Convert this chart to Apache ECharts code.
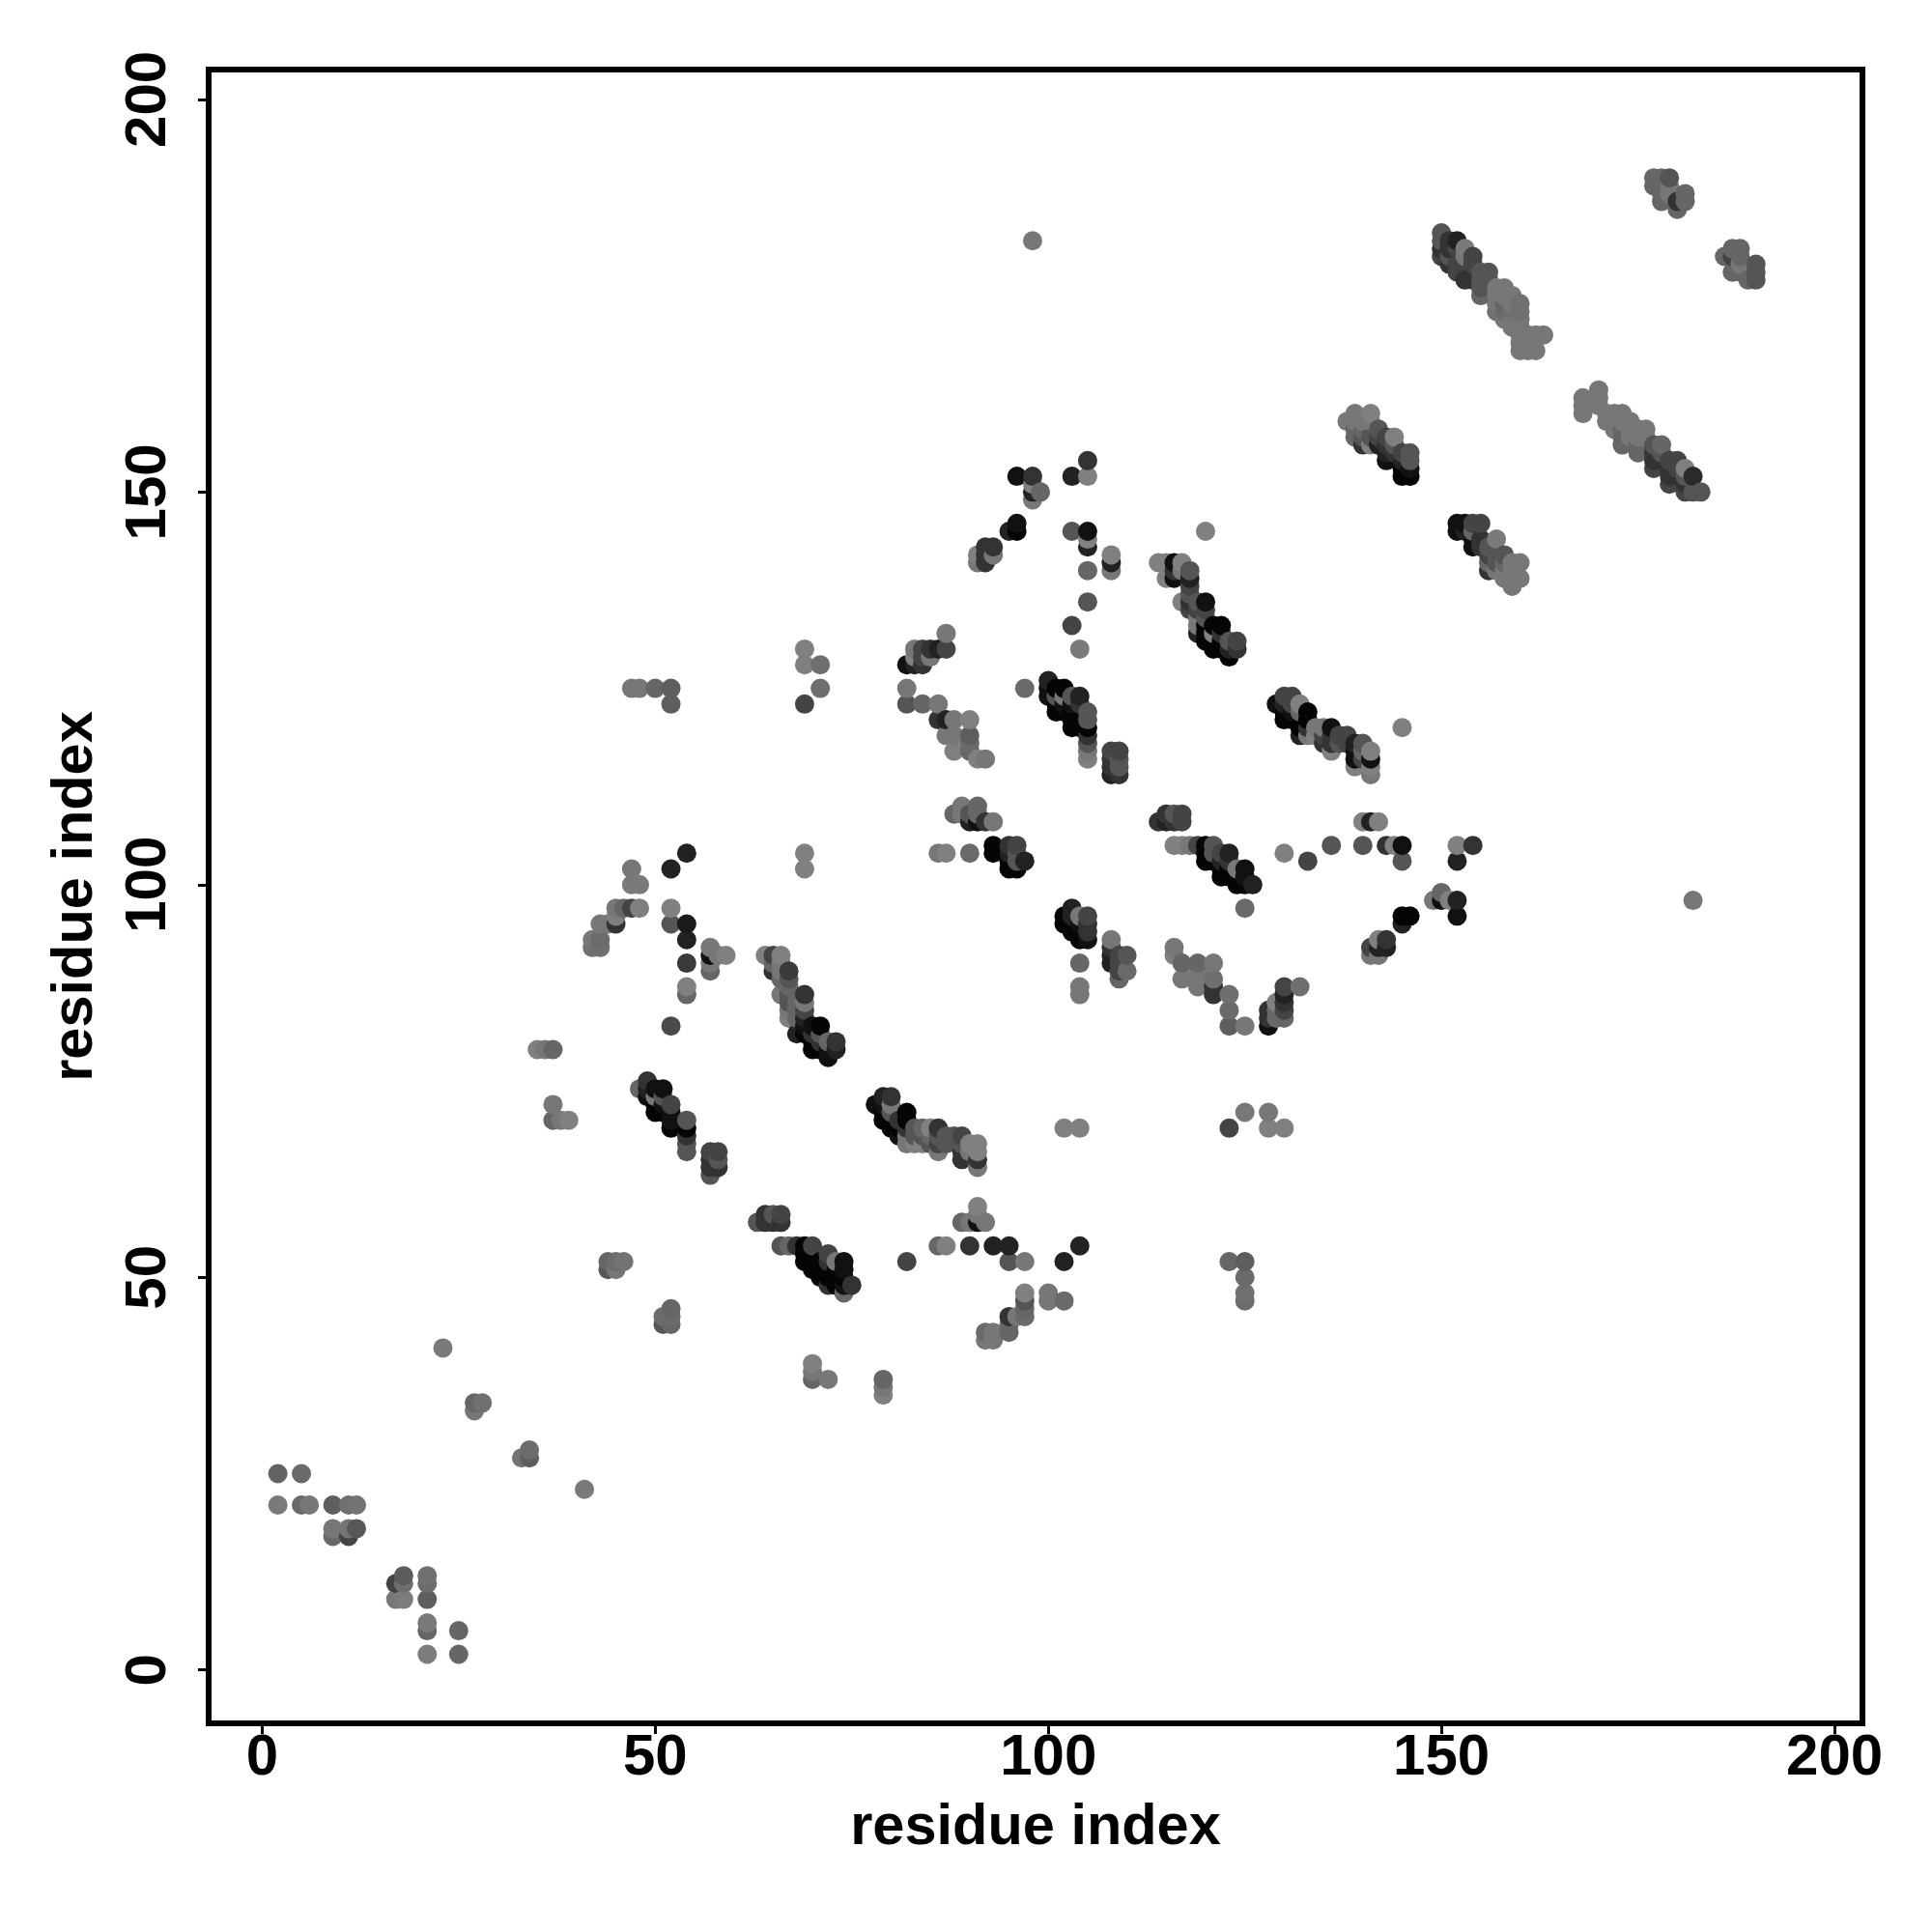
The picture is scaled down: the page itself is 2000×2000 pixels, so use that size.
<!DOCTYPE html>
<html><head><meta charset="utf-8">
<style>html,body{margin:0;padding:0;background:#fff}#c{width:2000px;height:2000px}</style>
<script src="https://cdn.jsdelivr.net/npm/echarts@6/dist/echarts.min.js"></script>
</head><body><div id="c"></div>
<script>
// each contact: [residue i, residue j, grey level]
const tickValues = [0, 50, 100, 150, 200];
const axisTitle = "residue index";
const lowLeft = [
[2,25,0x63],[5,25,0x6a],[2,21,0x7a],[5,21,0x69],[6,21,0x77],[9,21,0x5e],[11,21,0x70],[12,21,0x73],
[9,18,0x77],[11,18,0x75],[12,18,0x58],[9,17,0x69],[11,17,0x44],
[18,12,0x5c],[21,12,0x70],[17,11,0x44],[18,11,0x6f],[21,11,0x6c],[17,9,0x77],[18,9,0x7c],[21,9,0x5e],
[21,6,0x7a],[21,5,0x66],[25,5,0x66],[21,2,0x7c],[25,2,0x66],
[23,41,0x7a],[27,34,0x66],[28,34,0x70],[27,33,0x77],[33,27,0x73],[34,28,0x6c],[34,27,0x5e],[41,23,0x7a],
[44,52,0x66],[45,52,0x6c],[46,52,0x73],[44,51,0x58],[45,51,0x77],
[51,45,0x6c],[51,44,0x55],[52,46,0x66],[52,45,0x6c],[52,44,0x66]
];
const sheetA = [
[54,104,0x22],[52,102,0x22],[47,102,0x77],[47,100,0x7a],[48,100,0x7a],[69,104,0x80],[69,102,0x80],
[45,97,0x77],[46,97,0x66],[47,97,0x44],[48,97,0x7f],[45,96,0x7f],[43,95,0x77],[44,95,0x77],[45,95,0x33],
[42,93,0x77],[43,93,0x6c],[42,92,0x70],[43,92,0x70],
[52,97,0x80],[52,95,0x55],[54,95,0x1a],[54,93,0x22],[54,90,0x3a],[54,87,0x80],[54,86,0x66],[52,82,0x4a],
[57,92,0x77],[57,91,0x11],[58,91,0x77],[59,91,0x80],[57,90,0x77],[57,89,0x66],
[35,79,0x80],[36,79,0x77],[37,79,0x66],[37,72,0x77],[37,70,0x66],[38,70,0x77],[39,70,0x80],
[49,75,0x33],[48,74,0x66],[49,74,0x22],[50,74,0x11],[51,74,0x11],[49,73,0x11],[50,73,0x77],[51,73,0x55],
[50,72,0x05],[51,72,0x11],[52,72,0x44],[50,71,0x05],[51,71,0x05],[52,71,0x11],[52,70,0x11],[54,70,0x55],
[52,69,0x05],[54,69,0x05],[54,68,0x33],[54,67,0x55],[54,66,0x55],
[57,66,0x44],[58,66,0x44],[57,65,0x33],[58,65,0x55],[57,64,0x33],[58,64,0x33],[57,63,0x55]
];
const sheetB = [
[64,91,0x80],[65,91,0x44],[66,91,0x80],[65,90,0x66],[66,90,0x77],[65,89,0x33],[66,89,0x77],[67,89,0x3a],
[66,88,0x66],[67,88,0x55],[67,87,0x66],[66,86,0x77],[67,86,0x55],[69,86,0x33],[67,85,0x55],[68,85,0x66],[69,85,0x77],
[67,84,0x77],[68,84,0x66],[69,84,0x44],[67,83,0x80],[68,83,0x66],[69,83,0x22],[69,82,0x11],[70,82,0x11],[71,82,0x05],
[68,81,0x22],[69,81,0x05],[70,81,0x33],[71,81,0x55],[70,80,0x05],[71,80,0x33],[72,80,0x66],[73,80,0x33],
[70,79,0x05],[71,79,0x05],[72,79,0x11],[73,79,0x22],[72,78,0x11],
[79,73,0x22],[80,73,0x33],[78,72,0x11],[79,72,0x11],[80,72,0x77],[79,71,0x05],[80,71,0x55],[82,71,0x05],
[79,70,0x05],[80,70,0x05],[81,70,0x33],[82,70,0x05],[80,69,0x05],[81,69,0x05],[82,69,0x33],[83,69,0x55],[84,69,0x66],[85,69,0x80],[86,69,0x33],
[81,68,0x11],[82,68,0x77],[83,68,0x55],[84,68,0x55],[85,68,0x66],[86,68,0x55],[87,68,0x55],[88,68,0x55],[89,68,0x44],
[82,67,0x77],[83,67,0x80],[84,67,0x80],[85,67,0x55],[86,67,0x44],[87,67,0x55],[89,67,0x55],[90,67,0x80],[91,67,0x80],
[86,66,0x77],[89,66,0x33],[90,66,0x77],[91,66,0x80],[89,65,0x33],[91,65,0x33],[91,64,0x77]
];
const sheetC = [
[64,58,0x33],[65,58,0x55],[66,58,0x44],[63,57,0x55],[64,57,0x33],[65,57,0x33],[66,57,0x33],
[66,54,0x55],[67,54,0x66],[68,54,0x33],[69,54,0x05],[70,54,0x44],[69,53,0x05],[72,53,0x44],
[69,52,0x05],[70,52,0x05],[71,52,0x05],[72,52,0x33],[73,52,0x77],[74,52,0x11],
[70,51,0x05],[71,51,0x05],[72,51,0x05],[73,51,0x05],[74,51,0x11],[71,50,0x05],[72,50,0x05],[74,50,0x05],
[72,49,0x33],[73,49,0x05],[74,49,0x11],[75,49,0x33],[74,48,0x66],
[82,52,0x44],[86,54,0x66],[87,54,0x80],[90,54,0x33],[93,54,0x22],[95,54,0x22],[104,54,0x22],
[95,52,0x55],[97,52,0x77],[102,52,0x22],
[91,59,0x80],[91,58,0x77],[89,57,0x66],[90,57,0x77],[91,57,0x11],[92,57,0x77],
[97,48,0x80],[100,48,0x77],[97,47,0x55],[100,47,0x77],[102,47,0x6a],[97,46,0x66],
[95,45,0x33],[96,45,0x77],[97,45,0x6a],[95,44,0x66],[92,43,0x6a],[93,43,0x77],[95,43,0x66],[92,42,0x77],[93,42,0x77],
[70,39,0x80],[70,38,0x77],[70,37,0x66],[72,37,0x77],[79,37,0x66],[79,36,0x77],[79,35,0x80],
[102,69,0x80],[104,69,0x80],[123,69,0x44],[125,71,0x77],[128,71,0x77],[128,69,0x80],[130,69,0x80],
[123,52,0x66],[125,52,0x5e],[125,50,0x6a],[125,48,0x70],[125,47,0x6c]
];
const middle = [
[89,110,0x77],[91,110,0x66],[88,109,0x66],[89,109,0x77],[90,109,0x55],[91,109,0x66],[90,108,0x22],[91,108,0x11],[92,108,0x33],[93,108,0x77],
[86,104,0x77],[87,104,0x80],[90,104,0x6a],[93,105,0x05],[95,105,0x33],[96,105,0x44],[93,104,0x05],[95,104,0x22],[96,104,0x55],
[95,103,0x05],[96,103,0x55],[97,103,0x22],[95,102,0x05],[96,102,0x05],
[115,109,0x33],[116,109,0x55],[117,109,0x44],[114,108,0x33],[115,108,0x22],[116,108,0x33],[117,108,0x44],
[116,105,0x80],[117,105,0x80],[118,105,0x77],[119,105,0x44],[120,105,0x05],[121,105,0x55],
[120,104,0x05],[121,104,0x55],[122,104,0x44],[123,104,0x22],[120,103,0x05],[121,103,0x05],[122,103,0x22],[123,103,0x33],
[122,102,0x05],[123,102,0x05],[124,102,0x77],[125,102,0x11],[122,101,0x05],[123,101,0x05],[124,101,0x05],[125,101,0x11],
[124,100,0x05],[125,100,0x05],[126,100,0x22],[125,97,0x6a],
[103,97,0x22],[102,96,0x05],[103,96,0x22],[104,96,0x77],[105,96,0x44],[102,95,0x05],[103,95,0x05],[104,95,0x11],[105,95,0x33],
[103,94,0x05],[104,94,0x05],[105,94,0x33],[104,93,0x05],[105,93,0x11],[104,90,0x66],[104,87,0x77],[104,86,0x77],
[108,93,0x77],[108,92,0x33],[108,91,0x22],[109,91,0x44],[110,91,0x55],[108,90,0x22],[109,90,0x44],[109,89,0x44],[110,89,0x6a],[109,88,0x66],
[116,92,0x77],[116,91,0x80],[117,90,0x66],[119,90,0x66],[121,90,0x77],[119,89,0x77],[117,88,0x77],[119,88,0x77],[121,88,0x6f],
[119,87,0x77],[121,87,0x33],[121,86,0x33],[123,86,0x6f],[123,84,0x6a],[123,82,0x5e],[125,82,0x77],
[130,87,0x44],[132,87,0x6f],[130,86,0x22],[129,85,0x80],[130,85,0x33],[128,84,0x33],[129,84,0x66],[130,84,0x44],
[128,83,0x33],[129,83,0x6a],[130,83,0x66],[128,82,0x11]
];
const upperMiddle = [
[105,154,0x33],[96,152,0x11],[98,152,0x33],[103,152,0x22],[105,152,0x80],[98,151,0x80],[98,150,0x22],[99,150,0x66],[98,149,0x77],
[96,146,0x11],[95,145,0x22],[96,145,0x05],[103,145,0x55],[105,145,0x11],[105,144,0x80],[105,143,0x22],
[92,143,0x33],[93,143,0x33],[91,142,0x80],[92,142,0x33],[93,142,0x77],[108,142,0x80],[91,141,0x77],[92,141,0x33],[108,141,0x22],
[105,140,0x66],[108,140,0x77],[105,136,0x55],[103,133,0x44],[104,130,0x7a],[120,145,0x80],
[114,141,0x80],[115,141,0x80],[116,141,0x11],[117,141,0x80],[116,140,0x33],[117,140,0x77],[118,140,0x55],
[115,139,0x80],[116,139,0x11],[118,139,0x22],[118,138,0x44],[118,137,0x55],
[117,136,0x80],[118,136,0x33],[119,136,0x55],[120,136,0x11],[118,135,0x44],[119,135,0x44],[120,135,0x44],
[119,134,0x77],[120,134,0x55],[119,133,0x77],[120,133,0x05],[121,133,0x05],[122,133,0x05],
[119,132,0x22],[120,132,0x05],[121,132,0x80],[122,132,0x33],[120,131,0x05],[121,131,0x05],[122,131,0x05],[123,131,0x55],[124,131,0x44],
[121,130,0x05],[122,130,0x05],[123,130,0x22],[124,130,0x33],[123,129,0x05],
[87,132,0x77],[83,130,0x77],[84,130,0x44],[85,130,0x33],[86,130,0x22],[87,130,0x44],[83,129,0x80],[84,129,0x44],[85,129,0x77],
[82,128,0x11],[83,128,0x22],[84,128,0x33],[82,125,0x77],[82,123,0x55],[84,123,0x66],[86,123,0x77],
[86,121,0x33],[87,121,0x22],[88,121,0x77],[90,121,0x80],[87,119,0x77],[88,119,0x77],[90,119,0x5e],[90,118,0x6a],
[88,117,0x80],[90,117,0x66],[91,116,0x80],[92,116,0x77],[97,125,0x6a],
[100,126,0x22],[100,125,0x11],[101,125,0x05],[102,125,0x05],[100,124,0x11],[101,124,0x55],[102,124,0x77],[103,124,0x55],[104,124,0x22],
[101,123,0x05],[102,123,0x11],[103,123,0x11],[104,123,0x33],[101,122,0x05],[102,122,0x05],[103,122,0x05],[105,122,0x55],
[103,121,0x05],[104,121,0x05],[105,121,0x55],[103,120,0x05],[104,120,0x05],[105,120,0x05],
[105,119,0x33],[105,118,0x55],[105,117,0x77],[105,116,0x7f],
[108,117,0x44],[109,117,0x44],[108,116,0x33],[109,116,0x55],[108,115,0x33],[109,115,0x55],[108,114,0x22],[109,114,0x33],
[47,125,0x77],[48,125,0x77],[50,125,0x66],[52,125,0x5e],[52,123,0x5e],
[69,130,0x80],[69,128,0x80],[71,128,0x6f],[71,125,0x6f],[69,123,0x44]
];
const rightMiddle = [
[130,124,0x44],[131,124,0x44],[129,123,0x11],[130,123,0x22],[131,123,0x44],[132,123,0x80],
[130,122,0x05],[131,122,0x11],[132,122,0x66],[133,122,0x05],[130,121,0x05],[131,121,0x05],[133,121,0x05],
[132,120,0x05],[133,120,0x33],[134,120,0x77],[135,120,0x77],[136,120,0x11],[145,120,0x80],
[132,119,0x22],[133,119,0x77],[134,119,0x80],[135,119,0x44],[136,119,0x33],[137,119,0x44],[138,119,0x44],
[135,118,0x33],[136,118,0x33],[137,118,0x55],[138,118,0x44],[139,118,0x22],[140,118,0x55],
[136,117,0x80],[139,117,0x11],[140,117,0x66],[141,117,0x80],[139,116,0x11],[140,116,0x44],[141,116,0x11],
[139,115,0x80],[141,115,0x80],[141,114,0x77],
[140,108,0x80],[141,108,0x22],[142,108,0x80],[136,105,0x55],[140,105,0x55],[143,105,0x33],[144,105,0x80],[145,105,0x11],
[152,105,0x80],[154,105,0x33],[130,104,0x80],[133,103,0x44],[145,103,0x55],[152,103,0x22],
[150,99,0x66],[149,98,0x77],[150,98,0x11],[151,98,0x80],[152,98,0x22],[145,96,0x05],[146,96,0x05],[152,96,0x11],[145,95,0x22],
[142,93,0x80],[143,93,0x33],[141,92,0x44],[142,92,0x22],[143,92,0x22],[141,91,0x77],[142,91,0x77],[182,98,0x77],[98,182,0x77]
];
const upperRight = [
[139,160,0x77],[141,160,0x80],[138,159,0x77],[139,159,0x77],[140,159,0x77],[141,159,0x77],
[139,158,0x66],[140,158,0x66],[142,158,0x55],[139,157,0x66],[140,157,0x55],[141,157,0x55],[142,157,0x44],[143,157,0x44],[144,157,0x7f],
[140,156,0x33],[141,156,0x80],[142,156,0x22],[143,156,0x33],[144,156,0x55],[143,155,0x22],[144,155,0x33],[145,155,0x44],[146,155,0x55],
[143,154,0x11],[145,154,0x22],[146,154,0x55],[145,153,0x05],[146,153,0x11],[145,152,0x05],[146,152,0x05],
[150,183,0x55],[150,182,0x55],[151,182,0x33],[152,182,0x22],[150,181,0x33],[151,181,0x33],[152,181,0x44],[153,181,0x7a],
[150,180,0x44],[151,180,0x55],[153,180,0x77],[154,180,0x44],[151,179,0x33],[152,179,0x44],[154,179,0x44],
[152,178,0x44],[155,178,0x55],[156,178,0x55],[153,177,0x33],[154,177,0x33],[155,177,0x55],[156,177,0x55],
[155,176,0x55],[157,176,0x77],[158,176,0x77],[155,175,0x66],[157,175,0x77],[158,175,0x77],[159,175,0x77],
[157,174,0x77],[158,174,0x66],[159,174,0x77],[160,174,0x70],[157,173,0x70],[158,173,0x6a],[159,173,0x70],[160,173,0x70],
[158,172,0x77],[159,172,0x77],[160,172,0x77],[159,171,0x77],[160,171,0x77],
[160,170,0x77],[161,170,0x77],[162,170,0x77],[163,170,0x77],[160,169,0x77],[160,168,0x77],[161,168,0x77],[162,168,0x77],
[170,163,0x77],[168,162,0x77],[170,162,0x77],[168,161,0x77],[170,161,0x77],[168,160,0x77],[171,160,0x77],[172,160,0x77],[173,160,0x77],
[171,159,0x77],[172,159,0x77],[173,159,0x77],[174,159,0x77],[172,158,0x77],[173,158,0x66],[174,158,0x77],[175,158,0x77],[176,158,0x77],
[173,157,0x66],[174,157,0x77],[175,157,0x77],[176,157,0x77],[173,156,0x66],[175,156,0x66],[177,156,0x55],[178,156,0x66],
[175,155,0x66],[177,155,0x33],[178,155,0x55],[177,154,0x33],[179,154,0x44],[180,154,0x44],
[177,153,0x44],[179,153,0x33],[180,153,0x44],[181,153,0x7f],[179,152,0x33],[181,152,0x55],[182,152,0x2a],
[179,151,0x44],[181,151,0x33],[181,150,0x44],[182,150,0x55],[183,150,0x55],
[177,190,0x66],[178,190,0x66],[179,190,0x55],[177,189,0x66],[179,189,0x77],[178,188,0x66],[179,188,0x77],[181,188,0x66],
[178,187,0x66],[180,187,0x33],[181,187,0x66],[180,186,0x66],
[187,181,0x66],[188,181,0x66],[186,180,0x66],[187,180,0x44],[188,180,0x66],[188,179,0x77],[190,179,0x55],
[187,178,0x66],[188,178,0x66],[190,178,0x55],[189,177,0x66],[190,177,0x55],
[152,146,0x11],[153,146,0x11],[154,146,0x44],[155,146,0x44],[152,145,0x11],[153,145,0x22],[154,145,0x66],
[154,144,0x11],[155,144,0x33],[157,144,0x7a],[154,143,0x11],[155,143,0x33],[156,143,0x55],
[156,142,0x44],[157,142,0x55],[158,142,0x55],[156,141,0x66],[157,141,0x55],[158,141,0x66],[159,141,0x77],[160,141,0x77],
[156,140,0x33],[157,140,0x77],[158,140,0x77],[159,140,0x77],[158,139,0x77],[160,139,0x77],[159,138,0x77]
];
const contacts = [].concat(lowLeft, sheetA, sheetB, sheetC, middle, upperMiddle, rightMiddle, upperRight)
  .sort((a, b) => a[0] - b[0] || a[1] - b[1]);

const font = '"Liberation Sans", Arial, sans-serif';
const chart = echarts.init(document.getElementById('c'), null, {renderer: 'canvas'});
function axis(rotate, gap, margin, max) {
  return {
    type: 'value', min: -6.8, max: max,
    name: axisTitle, nameLocation: 'middle', nameGap: gap,
    nameTextStyle: {fontFamily: font, fontWeight: 'bold', fontSize: 59.5, color: '#000'},
    axisLine: {show: false, onZero: false},
    axisTick: {show: true, length: 11, lineStyle: {color: '#000', width: 3}, customValues: tickValues},
    axisLabel: {show: true, rotate: rotate, margin: margin, fontFamily: font, fontWeight: 'bold', fontSize: 60, color: '#000',
      customValues: tickValues, formatter: v => String(v)},
    splitLine: {show: false}
  };
}
chart.setOption({
  animation: false,
  backgroundColor: '#fff',
  grid: {left: 216, right: 72, top: 72, bottom: 216, show: true, borderColor: '#000', borderWidth: 6, backgroundColor: '#fff'},
  xAxis: axis(0, 79, 6, 203.55),
  yAxis: axis(90, 107, 32, 203.8),
  series: [{
    type: 'scatter', symbol: 'circle', symbolSize: 20, large: false, clip: true, silent: true,
    data: contacts.map(c => ({value: [c[0], c[1]],
      itemStyle: {color: 'rgb(' + c[2] + ',' + c[2] + ',' + c[2] + ')', opacity: 1}}))
  }]
});
</script></body></html>
